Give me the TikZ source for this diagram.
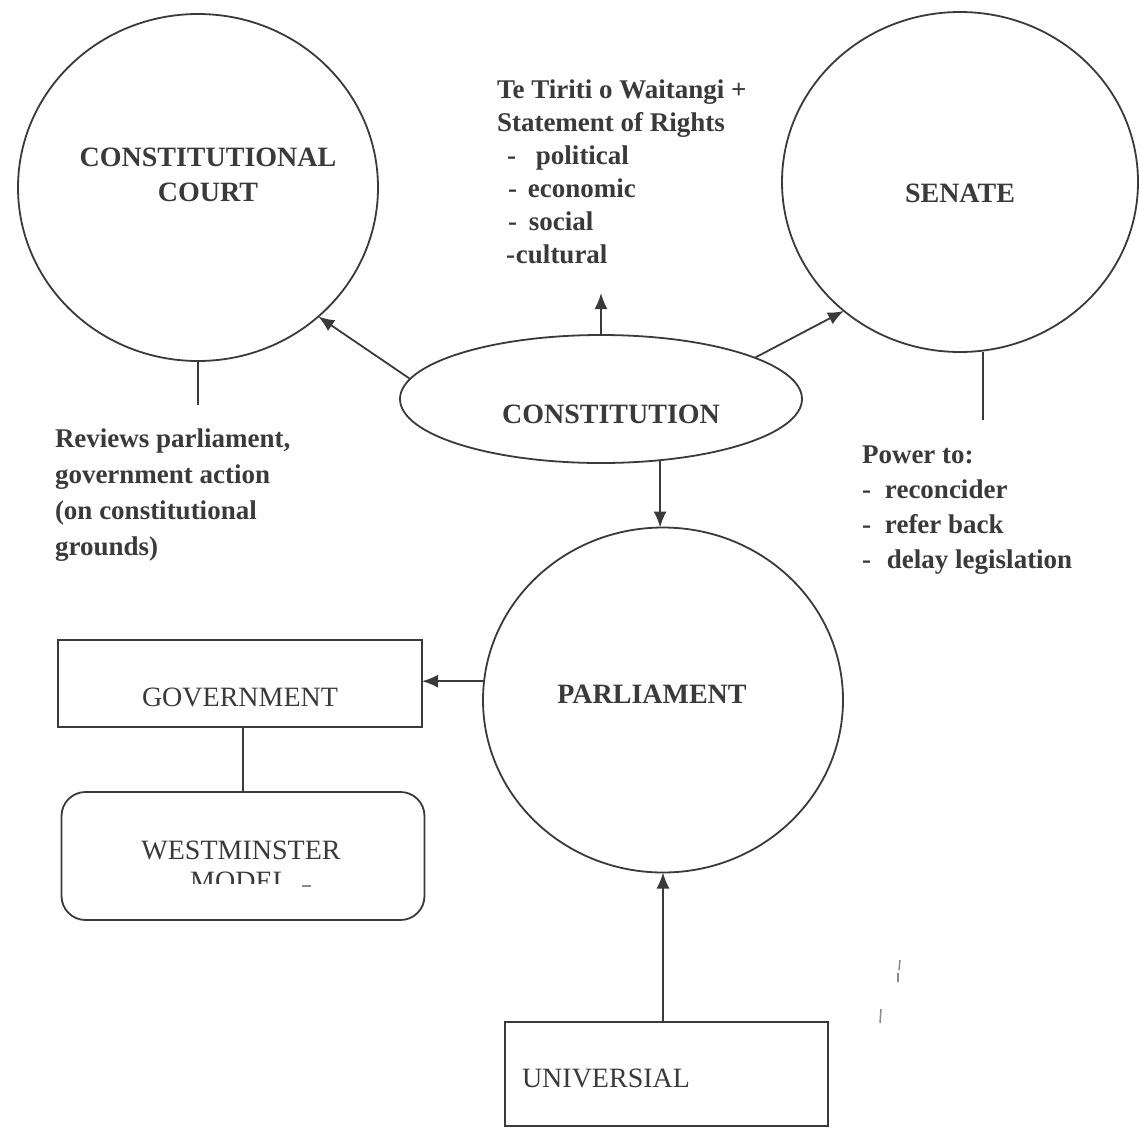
\documentclass[tikz,border=0pt]{standalone}
\usepackage{fontspec}
\setmainfont{Liberation Serif}
\usetikzlibrary{shapes.geometric,arrows.meta}
\definecolor{ink}{HTML}{3A3A3A}
\definecolor{faint}{HTML}{8A8A8A}
\begin{document}
\begin{tikzpicture}[x=1pt,y=-1pt,
  every node/.style={inner sep=0pt, outer sep=0pt, text=ink},
  orb/.style={ellipse, draw=ink, line width=1.8pt},
  box/.style={rectangle, draw=ink, line width=1.8pt},
  head/.style={font=\fontsize{28}{34.5}\selectfont\bfseries, align=center},
  plain/.style={font=\fontsize{28}{34}\selectfont, align=center},
  note/.style={font=\fontsize{27}{35}\selectfont\bfseries, align=left, anchor=north west},
  arr/.style={draw=ink, line width=1.8pt, -{Latex[length=16pt,width=13pt]}},
  link/.style={draw=ink, line width=1.8pt},
]
\fill[white] (0,0) rectangle (1140,1130);
\useasboundingbox (0,0) rectangle (1140,1130);

% main bodies
\node[orb, minimum width=360pt, minimum height=347pt] (court) at (198,187.5) {};
\node[orb, minimum width=356pt, minimum height=340pt] (senate) at (960,182) {};
\node[orb, minimum width=402pt, minimum height=128pt] (const) at (601,399) {};
\node[orb, minimum width=360pt, minimum height=345pt] (parl) at (663,700) {};

\node[head] (courtT) at (208,175) {CONSTITUTIONAL\\COURT};
\node[head] (senT) at (960,193) {SENATE};
\node[head] (constT) at (611,414) {CONSTITUTION};
\node[head] (parlT) at (652,694) {PARLIAMENT};

% boxes
\node[box, minimum width=364pt, minimum height=87pt] (gov) at (240,683.5) {};
\node[plain] (govT) at (240,697) {GOVERNMENT};
\node[box, rounded corners=24pt, minimum width=363pt, minimum height=128pt] (west) at (243,856) {};
\node[plain] (westT) at (241,850) {WESTMINSTER};
\begin{scope}
  \clip (150,860) rectangle (330,883);
  \node[plain] (modelT) at (240,881.5) {MODEL};
\end{scope}
\draw[faint, line width=1.2pt] (302,886) -- (311,886);
\node[box, minimum width=323pt, minimum height=104pt] (univ) at (666.5,1074) {};
\node[plain, anchor=west] (univT) at (522,1078) {UNIVERSIAL};

% side notes
\node[note, font=\fontsize{27}{33}\selectfont\bfseries] (rights) at (497,80)
  {Te Tiriti o Waitangi +\\
   Statement of Rights\\
   \hspace*{10pt}-\hspace*{20pt}political\\
   \hspace*{11pt}-\hspace*{11pt}economic\\
   \hspace*{11pt}-\hspace*{12pt}social\\
   \hspace*{9pt}-\hspace*{1pt}cultural};
\node[note, font=\fontsize{27}{36}\selectfont\bfseries] (reviews) at (55,429)
  {Reviews parliament,\\government action\\(on constitutional\\grounds)};
\node[note] (power) at (862,446)
  {Power to:\\
   -\hspace*{14pt}reconcider\\
   -\hspace*{14pt}refer back\\
   -\hspace*{16pt}delay legislation};

% connectors
\coordinate (rightsTip) at (601,293);
\coordinate (courtTick) at (198,405);
\coordinate (senTick) at (983,420);

\draw[arr] (const.174.6) -- (court.-47);
\draw[arr] (const.north) -- (rightsTip);
\draw[arr] (const.15.5) -- (senate.-132.7);
\draw[arr] (const.-46) -- (const.-46 |- parl.north);
\draw[arr] (parl.174.5) -- (parl.174.5 -| gov.east);
\draw[arr] (parl.south |- univ.north) -- (parl.south);
\draw[link] (west.north |- gov.south) -- (west.north);
\draw[link] (court.south) -- (courtTick);
\draw[link] (senTick |- senate.south) -- (senTick);

% small pencil strokes at lower right
\draw[faint, line width=1.5pt] (900,960) -- (899,970);
\draw[faint, line width=1.5pt] (898,973) -- (898,982);
\draw[faint, line width=1.5pt] (881,1009) -- (880,1023);
\end{tikzpicture}
\end{document}
